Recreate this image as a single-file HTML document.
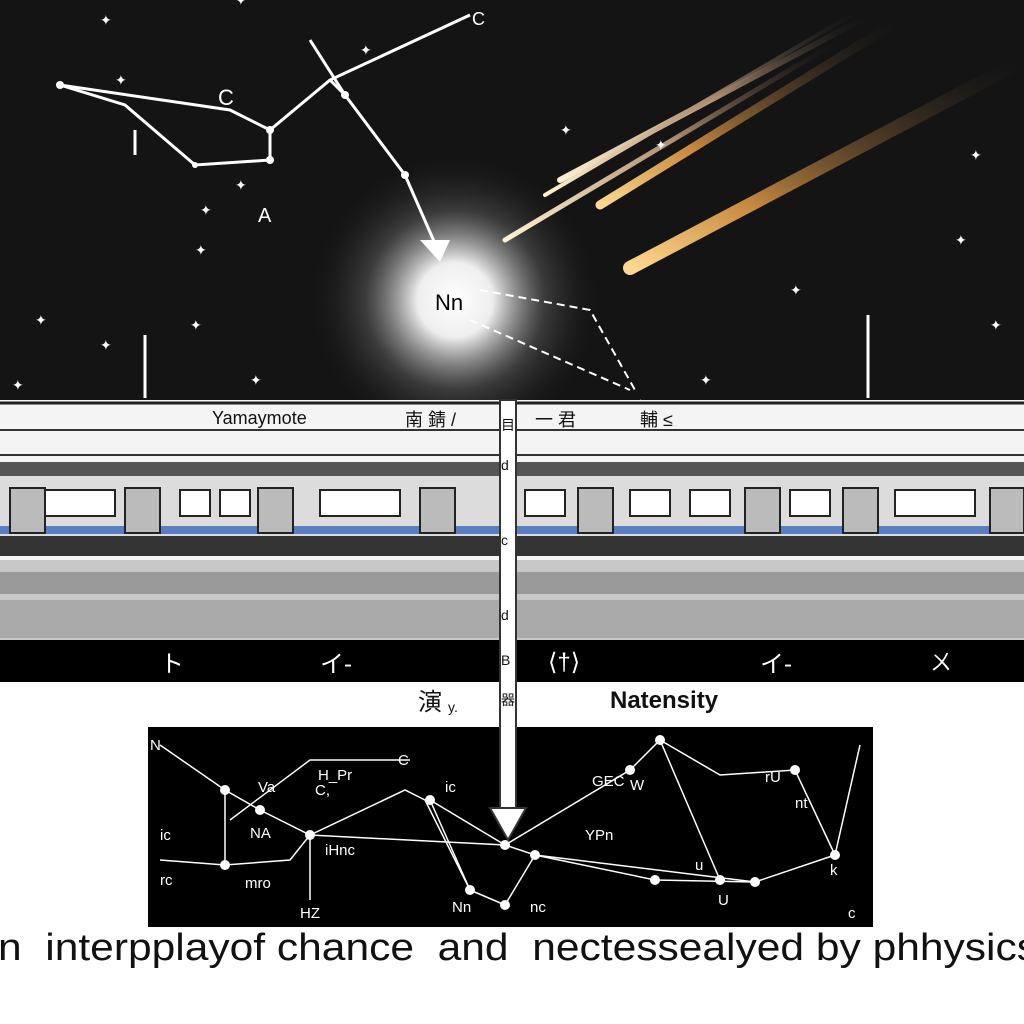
<!DOCTYPE html>
<html><head><meta charset="utf-8"><style>
html,body{margin:0;padding:0;background:#fff;}
svg{display:block;}
text{font-family:"Liberation Sans","Noto Sans CJK JP",sans-serif;}
</style></head><body>
<svg width="1024" height="1024" viewBox="0 0 1024 1024" xmlns="http://www.w3.org/2000/svg">
<defs>
<radialGradient id="glow" cx="0.5" cy="0.5" r="0.5">
<stop offset="0" stop-color="#fff"/><stop offset="0.25" stop-color="#eee"/><stop offset="0.6" stop-color="#555" stop-opacity="0.6"/><stop offset="1" stop-color="#111" stop-opacity="0"/>
</radialGradient>
<linearGradient id="met" x1="0" y1="1" x2="1" y2="0">
<stop offset="0" stop-color="#ffd890"/><stop offset="0.3" stop-color="#c88a40"/><stop offset="1" stop-color="#222" stop-opacity="0"/>
</linearGradient>
<linearGradient id="met2" x1="0" y1="1" x2="1" y2="0">
<stop offset="0" stop-color="#fff2d0"/><stop offset="0.5" stop-color="#b09070"/><stop offset="1" stop-color="#222" stop-opacity="0"/>
</linearGradient>
</defs>
<rect x="0" y="0" width="1024" height="400" fill="#141414"/>
<circle cx="455" cy="300" r="150" fill="url(#glow)"/>
<g stroke-linecap="round">
<line x1="630" y1="268" x2="1024" y2="60" stroke="url(#met)" stroke-width="14"/>
<line x1="600" y1="205" x2="900" y2="20" stroke="url(#met)" stroke-width="9"/>
<line x1="560" y1="180" x2="870" y2="15" stroke="url(#met2)" stroke-width="6"/>
<line x1="505" y1="240" x2="840" y2="40" stroke="url(#met2)" stroke-width="5"/>
<line x1="545" y1="195" x2="860" y2="10" stroke="url(#met2)" stroke-width="4"/>
</g>
<g fill="#fff" font-size="14">
<text x="100" y="25">✦</text><text x="360" y="55">✦</text><text x="560" y="135">✦</text><text x="970" y="160">✦</text>
<text x="115" y="85">✦</text><text x="200" y="215">✦</text><text x="235" y="190">✦</text><text x="195" y="255">✦</text>
<text x="35" y="325">✦</text><text x="190" y="330">✦</text><text x="12" y="390">✦</text><text x="100" y="350">✦</text>
<text x="790" y="295">✦</text><text x="990" y="330">✦</text><text x="700" y="385">✦</text><text x="955" y="245">✦</text>
<text x="250" y="385">✦</text><text x="655" y="150">✦</text><text x="235" y="5">✦</text>
</g>
<g stroke="#fff" stroke-width="3" fill="none">
<polyline points="60,85 125,105 195,165 270,160 270,130 330,80 470,15"/>
<polyline points="60,85 230,110 270,130"/>
<line x1="310" y1="40" x2="345" y2="95"/>
<polyline points="345,95 405,175 440,255"/>
<line x1="330" y1="80" x2="345" y2="95"/>
<line x1="135" y1="130" x2="135" y2="155"/>
</g>
<polygon points="440,262 420,240 450,240" fill="#fff"/>
<g fill="#fff"><circle cx="60" cy="85" r="4"/><circle cx="270" cy="130" r="4"/><circle cx="270" cy="160" r="4"/><circle cx="405" cy="175" r="4"/><circle cx="345" cy="95" r="4"/><circle cx="195" cy="165" r="3"/></g>
<text x="218" y="105" fill="#fff" font-size="22">C</text>
<text x="472" y="25" fill="#fff" font-size="18">C</text>
<text x="258" y="222" fill="#fff" font-size="20">A</text>
<text x="435" y="310" fill="#000" font-size="22">Nn</text>
<g stroke="#fff" stroke-width="2" stroke-dasharray="8,5" fill="none">
<polyline points="480,290 590,310 635,390"/><line x1="470" y1="320" x2="630" y2="390"/><line x1="640" y1="400" x2="730" y2="570"/>
</g>
<line x1="145" y1="335" x2="145" y2="398" stroke="#fff" stroke-width="3"/>
<line x1="868" y1="315" x2="868" y2="398" stroke="#fff" stroke-width="3"/>
<rect x="0" y="400" width="1024" height="160" fill="#f4f4f4"/>
<line x1="0" y1="430" x2="1024" y2="430" stroke="#333" stroke-width="2"/>
<line x1="0" y1="455" x2="1024" y2="455" stroke="#333" stroke-width="2"/>
<line x1="0" y1="403" x2="1024" y2="403" stroke="#222" stroke-width="3"/>
<text x="212" y="424" font-size="18" fill="#111">Yamaymote</text>
<text x="405" y="426" font-size="18" fill="#111">南 錆 /</text>
<text x="535" y="426" font-size="18" fill="#111">一 君</text>
<text x="640" y="426" font-size="18" fill="#111">輔 ≤</text>
<rect x="0" y="462" width="1024" height="14" fill="#555"/>
<rect x="0" y="476" width="1024" height="60" fill="#dcdcdc"/>
<rect x="0" y="526" width="1024" height="8" fill="#5a7fc0"/>
<rect x="0" y="536" width="1024" height="20" fill="#333"/>
<g fill="#fff" stroke="#222" stroke-width="2">
<rect x="45" y="490" width="70" height="26"/><rect x="180" y="490" width="30" height="26"/><rect x="220" y="490" width="30" height="26"/>
<rect x="320" y="490" width="80" height="26"/><rect x="525" y="490" width="40" height="26"/><rect x="630" y="490" width="40" height="26"/>
<rect x="690" y="490" width="40" height="26"/><rect x="790" y="490" width="40" height="26"/><rect x="895" y="490" width="80" height="26"/>
</g>
<g fill="#bbb" stroke="#222" stroke-width="2">
<rect x="10" y="488" width="35" height="45"/><rect x="125" y="488" width="35" height="45"/><rect x="258" y="488" width="35" height="45"/>
<rect x="420" y="488" width="35" height="45"/><rect x="578" y="488" width="35" height="45"/><rect x="745" y="488" width="35" height="45"/>
<rect x="843" y="488" width="35" height="45"/><rect x="990" y="488" width="34" height="45"/>
</g>
<rect x="0" y="560" width="1024" height="80" fill="#c8c8c8"/>
<rect x="0" y="572" width="1024" height="22" fill="#9a9a9a"/>
<rect x="0" y="600" width="1024" height="38" fill="#aaa"/>
<rect x="0" y="640" width="1024" height="42" fill="#000"/>
<text x="160" y="672" fill="#fff" font-size="24">ト</text><text x="320" y="672" fill="#fff" font-size="24">イ-</text>
<text x="548" y="670" fill="#fff" font-size="24">⟨†⟩</text><text x="760" y="672" fill="#fff" font-size="24">イ-</text><text x="930" y="670" fill="#fff" font-size="22">ㄨ</text>
<text x="418" y="710" font-size="24" fill="#111">演</text><text x="448" y="712" font-size="14" fill="#111">y.</text>
<text x="610" y="708" font-size="24" font-weight="bold" fill="#111">Natensity</text>
<rect x="148" y="727" width="725" height="200" fill="#000"/>
<g stroke="#fff" stroke-width="1.5" fill="none">
<polyline points="160,745 225,790 260,810 310,835 405,790 425,800 470,890"/>
<polyline points="225,790 225,865 290,860 310,835 505,845 535,855 655,880 755,882 835,855 860,745"/>
<polyline points="225,865 160,860"/><polyline points="310,835 310,900"/>
<polyline points="505,845 630,770 660,740 720,880"/><polyline points="505,845 430,800 470,890 505,905 535,855"/>
<polyline points="660,740 720,775 795,770 835,855"/><polyline points="535,855 755,882"/><polyline points="230,820 310,760 410,760"/>
</g>
<g fill="#fff"><circle cx="225" cy="790" r="5"/><circle cx="260" cy="810" r="5"/><circle cx="310" cy="835" r="5"/><circle cx="225" cy="865" r="5"/><circle cx="430" cy="800" r="5"/><circle cx="505" cy="845" r="5"/><circle cx="535" cy="855" r="5"/><circle cx="630" cy="770" r="5"/><circle cx="660" cy="740" r="5"/><circle cx="655" cy="880" r="5"/><circle cx="755" cy="882" r="5"/><circle cx="835" cy="855" r="5"/><circle cx="795" cy="770" r="5"/><circle cx="505" cy="905" r="5"/><circle cx="470" cy="890" r="5"/><circle cx="720" cy="880" r="5"/></g>
<g fill="#fff" font-size="15">
<text x="150" y="750">N</text><text x="258" y="792">Va</text><text x="318" y="780">H_Pr</text><text x="315" y="795">C,</text><text x="398" y="765">C</text>
<text x="160" y="840">ic</text><text x="250" y="838">NA</text><text x="325" y="855">iHnc</text><text x="245" y="888">mro</text><text x="160" y="885">rc</text>
<text x="300" y="918">HZ</text><text x="445" y="792">ic</text><text x="452" y="912">Nn</text><text x="530" y="912">nc</text>
<text x="592" y="786">GEC</text><text x="630" y="790">W</text><text x="585" y="840">YPn</text><text x="765" y="782">rU</text><text x="795" y="808">nt</text>
<text x="830" y="875">k</text><text x="848" y="918">c</text><text x="718" y="905">U</text><text x="695" y="870">u</text>
</g>
<rect x="500" y="400" width="16" height="410" fill="#fff" stroke="#333" stroke-width="2"/>
<polygon points="490,808 526,808 508,840" fill="#fff" stroke="#333" stroke-width="2"/>
<text x="501" y="430" font-size="14" fill="#111">目</text><text x="501" y="470" font-size="14" fill="#111">d</text><text x="501" y="545" font-size="14" fill="#111">c</text>
<text x="501" y="620" font-size="14" fill="#111">d</text><text x="501" y="665" font-size="14" fill="#111">B</text><text x="501" y="705" font-size="14" fill="#111">器</text>
<text x="-2" y="960" font-size="38" fill="#111" textLength="1040" lengthAdjust="spacingAndGlyphs">n&#160;&#160;interpplayof chance&#160;&#160;and&#160;&#160;nectessealyed by phhysics</text>
</svg>
</body></html>
